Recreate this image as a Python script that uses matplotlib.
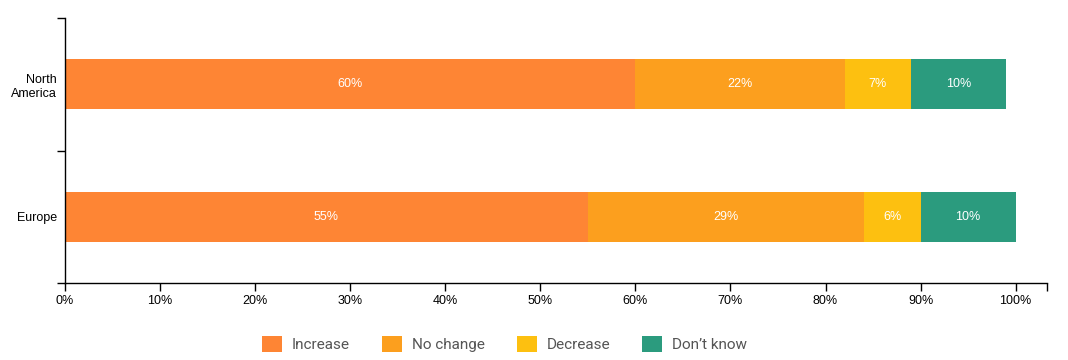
import matplotlib
matplotlib.use("Agg")
import matplotlib.pyplot as plt
from matplotlib.patches import Patch

# ------------------------------------------------------
# Data
# ------------------------------------------------------
regions = ["North\nAmerica", "Europe"]
series = ["Increase", "No change", "Decrease", "Don\u2019t know"]
increase = [60, 55]
no_change = [22, 29]
decrease = [7, 6]
dont_know = [10, 10]
values = [increase, no_change, decrease, dont_know]
colors = ["#FE8534", "#FC9F1E", "#FDC010", "#2B9B7E"]
xticks = list(range(0, 101, 10))

plt.rcParams["font.family"] = ["Liberation Sans", "DejaVu Sans"]

fig = plt.figure(figsize=(10.68, 3.6), dpi=100)
ax = fig.add_axes([65 / 1068, 1 - 283 / 360, (1047 - 65) / 1068, 265 / 360])

ypos = list(range(len(regions)))
left = [0] * len(regions)
for vals, col in zip(values, colors):
    bars = ax.barh(ypos, vals, left=left, height=0.376, color=col, linewidth=0)
    for b, v, l in zip(bars, vals, left):
        ax.text(l + v / 2, b.get_y() + b.get_height() / 2, f"{v}%",
                ha="center", va="center", color="white", fontsize=9)
    left = [a + b for a, b in zip(left, vals)]

ax.set_xlim(0, 103.3)
ax.set_ylim(1.5, -0.5)

ax.set_xticks(xticks)
ax.set_xticklabels([f"{t}%" for t in xticks], fontsize=9)
ax.set_xticks([103.3], minor=True)
ax.tick_params(axis="x", which="both", length=6, width=1, color="black", pad=3)

ax.set_yticks([-0.5, 0.5, 1.5])
ax.set_yticklabels([])
ax.set_yticks(ypos, minor=True)
ax.set_yticklabels(regions, minor=True, fontsize=9, ha="right", multialignment="right")
ax.tick_params(axis="y", which="major", length=6, width=1, color="black")
ax.tick_params(axis="y", which="minor", length=0, pad=6)

for s in ["top", "right"]:
    ax.spines[s].set_visible(False)
for s in ["left", "bottom"]:
    ax.spines[s].set_linewidth(1)
    ax.spines[s].set_color("black")

handles = [Patch(facecolor=c, edgecolor="none", label=s) for s, c in zip(series, colors)]
leg = fig.legend(handles=handles, loc="center", bbox_to_anchor=(504.5 / 1068, 1 - 344 / 360),
                 ncol=4, frameon=False, handlelength=1.3, handleheight=1.18,
                 handletextpad=0.65, columnspacing=2.1,
                 prop={"family": ["Roboto", "DejaVu Sans"], "size": 11})
for t in leg.get_texts():
    t.set_color("#555555")

fig.savefig("out.png", dpi=100)
